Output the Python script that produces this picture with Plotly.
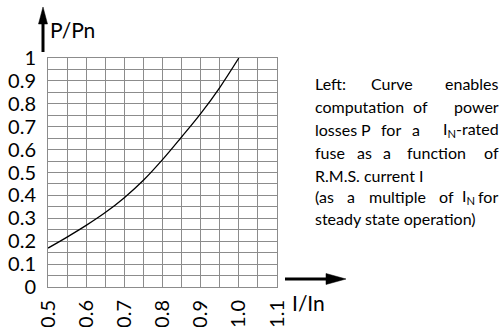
import plotly.graph_objects as go

# Curve (current ratio I/In -> power ratio P/Pn)
current_ratio = [0.5, 0.55, 0.6, 0.65, 0.7, 0.75, 0.8, 0.85, 0.9, 0.95, 1.0]
power_ratio = [0.17, 0.218, 0.269, 0.325, 0.39, 0.466, 0.556, 0.655, 0.757, 0.871, 1.0]

x_ticks = [0.5, 0.6, 0.7, 0.8, 0.9, 1.0, 1.1]
x_tick_labels = ["0.5", "0.6", "0.7", "0.8", "0.9", "1.0", "1.1"]
y_ticks = [0, 0.1, 0.2, 0.3, 0.4, 0.5, 0.6, 0.7, 0.8, 0.9, 1.0]
y_tick_labels = ["0", "0.1", "0.2", "0.3", "0.4", "0.5", "0.6", "0.7", "0.8", "0.9", "1"]

FONT = "Lato"
GRID = "#8c8c8c"
W, H = 503, 327
L, R, T, B = 48, 226, 58, 40
PW, PH = W - L - R, H - T - B


def px_x(px):
    return (px - L) / PW


def px_y(py):
    return (H - B - py) / PH


fig = go.Figure(go.Scatter(
    x=current_ratio,
    y=power_ratio,
    mode="lines",
    line=dict(color="black", width=1.3, shape="spline"),
    hoverinfo="skip",
))

axis_common = dict(
    showgrid=True,
    gridcolor=GRID,
    gridwidth=1,
    zeroline=False,
    showline=True,
    linecolor=GRID,
    linewidth=1,
    mirror=True,
    ticks="",
    automargin=False,
    tickfont=dict(family=FONT, size=20, color="black"),
    minor=dict(showgrid=True, gridcolor=GRID, gridwidth=1, dtick=0.05),
)

fig.update_layout(
    width=W,
    height=H,
    margin=dict(l=L, r=R, t=T, b=B),
    plot_bgcolor="white",
    paper_bgcolor="white",
    showlegend=False,
    xaxis=dict(
        range=[0.5, 1.1],
        tickvals=x_ticks,
        ticktext=x_tick_labels,
        tickangle=-90,
        ticklabelstandoff=4,
        **axis_common,
    ),
    yaxis=dict(
        range=[0, 1],
        tickvals=y_ticks,
        ticktext=y_tick_labels,
        ticklabelstandoff=7,
        **axis_common,
    ),
)


def arrow_shapes(x0, y0, x1, y1, head_len, half_w):
    """Shaft line plus filled triangular head, given in pixel coordinates."""
    dx, dy = x1 - x0, y1 - y0
    n = (dx * dx + dy * dy) ** 0.5
    ux, uy = dx / n, dy / n
    bx, by = x1 - ux * head_len, y1 - uy * head_len
    px_, py_ = -uy * half_w, ux * half_w
    fig.add_shape(type="line", xref="paper", yref="paper",
                  x0=px_x(x0), y0=px_y(y0), x1=px_x(bx + ux), y1=px_y(by + uy),
                  line=dict(color="black", width=3))
    pts = [(x1, y1), (bx + px_, by + py_), (bx - px_, by - py_)]
    path = "M " + " L ".join(f"{px_x(a):.5f},{px_y(b):.5f}" for a, b in pts) + " Z"
    fig.add_shape(type="path", xref="paper", yref="paper", path=path,
                  fillcolor="black", line=dict(color="black", width=0.5))


arrow_shapes(43, 52, 43, 7, 17, 4.5)
arrow_shapes(285, 279, 346, 279, 20, 5.5)

fig.add_annotation(xref="paper", yref="paper", x=px_x(48), y=px_y(30),
                   xanchor="left", yanchor="middle", showarrow=False,
                   text="P/Pn", font=dict(family=FONT, size=21, color="black"))
fig.add_annotation(xref="paper", yref="paper", x=px_x(290), y=px_y(302),
                   xanchor="left", yanchor="middle", showarrow=False,
                   text="I/In", font=dict(family=FONT, size=21, color="black"))

# justified description text on the right, placed word by word
NOTE_FONT = dict(family=FONT, size=16, color="black")
LEFT_EDGE, RIGHT_EDGE = 313, 501
note_lines = [
    (83, [("Left:", "left", LEFT_EDGE), ("Curve", "center", 392), ("enables", "right", RIGHT_EDGE)]),
    (106, [("computation", "left", LEFT_EDGE), ("of", "center", 420), ("power", "right", RIGHT_EDGE)]),
    (129, [("losses", "left", LEFT_EDGE), ("P", "center", 366), ("for", "center", 391),
           ("a", "center", 416), ("I<sub>N</sub>-rated", "right", RIGHT_EDGE)]),
    (152, [("fuse", "left", LEFT_EDGE), ("as", "center", 364), ("a", "center", 387),
           ("function", "center", 436), ("of", "right", RIGHT_EDGE)]),
    (175, [("R.M.S. current I", "left", LEFT_EDGE)]),
    (196, [("(as", "left", LEFT_EDGE), ("a", "center", 351), ("multiple", "center", 397),
           ("of", "center", 446), ("I<sub>N</sub>", "center", 468), ("for", "right", 500)]),
    (218, [("steady state operation)", "left", LEFT_EDGE)]),
]
for y_px, words in note_lines:
    for word, anchor, x_px in words:
        fig.add_annotation(xref="paper", yref="paper", x=px_x(x_px), y=px_y(y_px),
                           xanchor=anchor, yanchor="middle", showarrow=False,
                           text=word, font=NOTE_FONT)

# the page's default body margin would shift the figure by 8px
fig.write_html("out.html", config={"displayModeBar": False},
               post_script="document.body.style.margin='0';")
